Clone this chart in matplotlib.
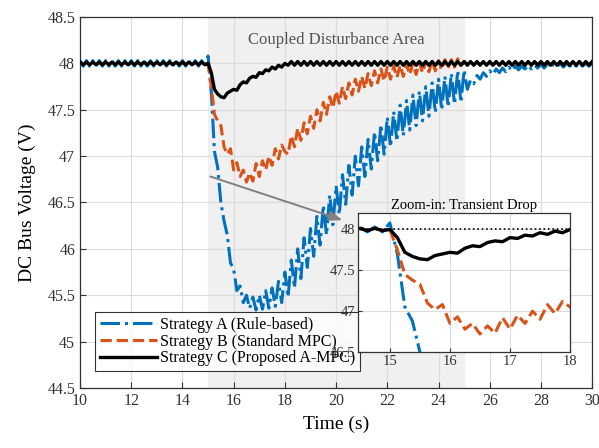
import numpy as np
import matplotlib
matplotlib.use("Agg")
import matplotlib.pyplot as plt
from matplotlib.ticker import FormatStrFormatter

plt.rcParams["font.family"] = ["Liberation Serif", "DejaVu Serif"]

# sampling step of the traces (s), all start at t = 10 s
dt = 0.125
t0 = 10.0

# Strategy C (Proposed A-MPC)
v_c = ([48.015, 47.985] * 20
       + [48.0, 47.9, 47.72, 47.67, 47.64, 47.63, 47.68, 47.7, 47.72, 47.71,
          47.77, 47.8, 47.79, 47.84, 47.86, 47.85, 47.9, 47.89, 47.93, 47.92,
          47.96, 47.94, 47.98, 47.96, 48.0]
       + [47.98, 48.02] * 48)

# Strategy B (Standard MPC)
v_b = ([48.01, 47.99] * 20
       + [48.0, 47.75, 47.45, 47.38, 47.33, 47.1, 47.02, 47.08, 46.85, 46.93,
          46.78, 46.85, 46.72, 46.82, 46.73, 46.92, 46.78, 46.95, 46.85, 47.0,
          46.9, 47.08, 46.97, 47.12, 47.05]
       + [47.02, 47.22, 47.1, 47.3, 47.17, 47.36, 47.24, 47.43,
          47.3, 47.5, 47.38, 47.58, 47.45, 47.64, 47.52, 47.7,
          47.57, 47.75, 47.62, 47.79, 47.66, 47.83, 47.7, 47.86,
          47.73, 47.89, 47.76, 47.92, 47.79, 47.94, 47.81, 47.96,
          47.83, 47.97, 47.85, 47.98, 47.86, 47.99, 47.88, 48.0,
          47.88, 48.01, 47.9, 48.02, 47.91, 48.03, 47.92, 48.03,
          47.93, 48.04, 47.95, 48.04, 47.96, 48.05, 47.98, 48.02]
       + [47.99, 48.01] * 20)

# Strategy A (Rule-based)
v_a = ([48.03, 47.97] * 20
       + [48.08, 47.7, 47.05, 46.88, 46.5, 46.3, 46.15, 45.85,
          45.78, 45.55, 45.6, 45.42, 45.5, 45.36, 45.48, 45.34,
          45.5, 45.35, 45.55, 45.36, 45.58, 45.38, 45.65, 45.42,
          45.75, 45.48, 45.88, 45.58, 46.0, 45.68, 46.12, 45.8,
          46.22, 45.92, 46.35, 46.04, 46.47, 46.15, 46.58, 46.26,
          46.68, 46.37, 46.8, 46.48, 46.9, 46.58, 47.0, 46.68,
          47.1, 46.78, 47.18, 46.86, 47.26, 46.95, 47.34, 47.02,
          47.42, 47.1, 47.48, 47.16, 47.55, 47.22, 47.6, 47.28,
          47.66, 47.33, 47.7, 47.38, 47.75, 47.43, 47.79, 47.47,
          47.83, 47.5, 47.86, 47.53, 47.89, 47.56, 47.92, 47.58,
          47.93]
       + [47.72, 47.82, 47.78, 47.87, 47.83, 47.9, 47.86, 47.92,
          47.88, 47.94, 47.9, 47.95, 47.91, 47.96, 47.92, 47.97,
          47.93, 47.97, 47.94, 47.98, 47.94, 47.98, 47.95, 47.99,
          47.95, 47.99, 47.96, 47.99, 47.96, 48.0, 47.96, 48.0,
          47.97, 48.0, 47.97, 48.0, 47.97, 48.0, 47.97, 48.0])

labels = ["Strategy A (Rule-based)", "Strategy B (Standard MPC)",
          "Strategy C (Proposed A-MPC)"]
area = (15, 25)
v_ref = 48.0

c_a, c_b, c_c = "#0072BD", "#D95319", "black"


def tvec(v):
    return t0 + dt * np.arange(len(v))


fig = plt.figure(figsize=(5.99, 4.48), dpi=100)
ax = fig.add_axes([0.1336, 0.134, 0.855, 0.828])

ax.axvspan(*area, color="#f0f0f0", zorder=0)
ax.plot(tvec(v_a), v_a, "-.", color=c_a, lw=2.2, label=labels[0], zorder=3)
ax.plot(tvec(v_b), v_b, "--", color=c_b, lw=2.2, label=labels[1], zorder=3)
ax.plot(tvec(v_c), v_c, "-", color=c_c, lw=2.4, label=labels[2], zorder=4)

ax.set_xlim(10, 30)
ax.set_ylim(44.5, 48.5)
ax.set_xticks(np.arange(10, 31, 2))
ax.set_yticks(np.arange(44.5, 48.51, 0.5))
ax.yaxis.set_major_formatter(FormatStrFormatter("%g"))
ax.grid(True, color="#dcdcdc", lw=0.8)
ax.set_axisbelow(True)
ax.tick_params(direction="in", labelsize=11.5, length=4, colors="#333333")
for s in ax.spines.values():
    s.set_color("#333333")
    s.set_linewidth(0.9)
ax.set_xlabel("Time (s)", fontsize=14, labelpad=5)
ax.set_ylabel("DC Bus Voltage (V)", fontsize=14, labelpad=8)

ax.text(20, 48.25, "Coupled Disturbance Area", ha="center", va="center",
        fontsize=12, color="#555555")

ax.annotate("", xy=(20.35, 46.3), xytext=(14.98, 46.79),
            arrowprops=dict(arrowstyle="-|>,head_width=0.3,head_length=0.8",
                            color="#808080", lw=1.4), zorder=6)

leg = ax.legend(loc="lower left", fontsize=11.5, handlelength=3.6,
                borderaxespad=0.35, frameon=True, fancybox=False,
                labelspacing=0.05, handletextpad=0.2, borderpad=0.3,
                bbox_to_anchor=(0.018, 0.03))
leg.get_frame().set_edgecolor("black")
leg.get_frame().set_linewidth(0.8)
leg.set_zorder(5)

# inset
ins = fig.add_axes([0.5977, 0.2143, 0.354, 0.310])
ins.set_facecolor("white")
ins.plot(tvec(v_a), v_a, "-.", color=c_a, lw=2.2)
ins.plot(tvec(v_b), v_b, "--", color=c_b, lw=2.2)
ins.plot(tvec(v_c), v_c, "-", color=c_c, lw=2.4)
ins.axhline(v_ref, color="black", ls=":", lw=1.2)
ins.set_xlim(14.47, 18)
ins.set_ylim(46.5, 48.2)
ins.set_xticks([15, 16, 17, 18])
ins.set_yticks([46.5, 47, 47.5, 48])
ins.yaxis.set_major_formatter(FormatStrFormatter("%g"))
ins.grid(True, color="#dcdcdc", lw=0.8)
ins.tick_params(direction="in", labelsize=10.5, length=3, colors="#333333",
                pad=2)
for s in ins.spines.values():
    s.set_color("#333333")
    s.set_linewidth(0.9)
ins.set_title("Zoom-in: Transient Drop", fontsize=10.5, pad=3)

fig.savefig("out.png", dpi=100)
